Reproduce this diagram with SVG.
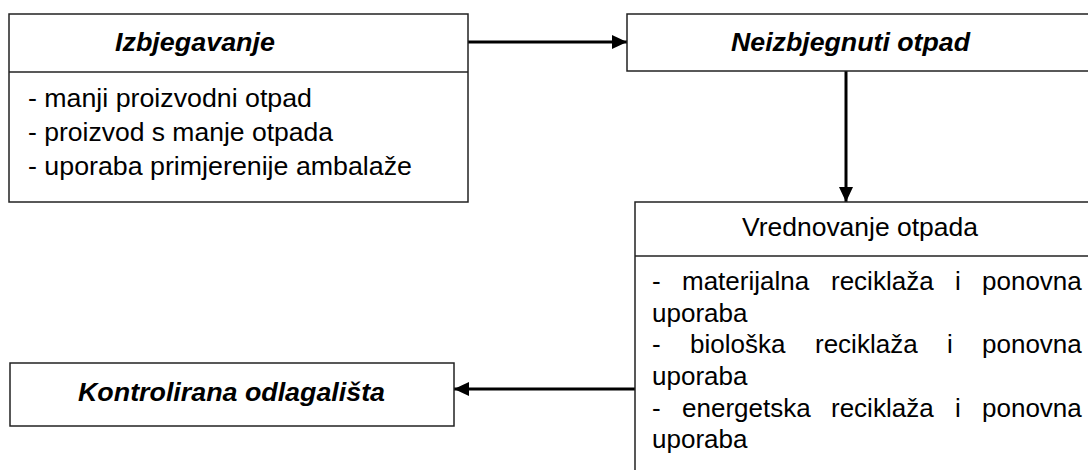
<svg xmlns="http://www.w3.org/2000/svg" width="1088" height="470" viewBox="0 0 1088 470">
<style>
.box{fill:#fff;stroke:#222;stroke-width:1.5}
.div{stroke:#222;stroke-width:1.5}
.t{font-family:"Liberation Sans",Arial,sans-serif;font-size:26px;fill:#000}
.h{font-weight:bold;font-style:italic}
.c{stroke:#000;stroke-width:3;fill:none}
</style>
<defs>
<marker id="ah" markerUnits="userSpaceOnUse" markerWidth="16" markerHeight="16" refX="15" refY="8" orient="auto">
<path d="M0,1 L15,8 L0,15 Z" fill="#000"/>
</marker>
</defs>
<rect width="1088" height="470" fill="#fff"/>
<g id="connectors">
<line class="c" x1="468" y1="42" x2="627" y2="42" marker-end="url(#ah)"/>
<line class="c" x1="846" y1="71" x2="846" y2="202" marker-end="url(#ah)"/>
<line class="c" x1="635" y1="389" x2="454" y2="389" marker-end="url(#ah)"/>
</g>
<g id="izbjegavanje">
<rect class="box" x="9" y="14" width="459" height="188"/>
<line class="div" x1="9" y1="72" x2="468" y2="72"/>
<text class="t h" x="115" y="51" textLength="160" lengthAdjust="spacingAndGlyphs">Izbjegavanje</text>
<text class="t" x="28" y="107" textLength="284" lengthAdjust="spacingAndGlyphs">- manji proizvodni otpad</text>
<text class="t" x="28" y="141" textLength="305" lengthAdjust="spacingAndGlyphs">- proizvod s manje otpada</text>
<text class="t" x="28" y="175" textLength="384" lengthAdjust="spacingAndGlyphs">- uporaba primjerenije ambalaže</text>
</g>
<g id="neizbjegnuti">
<rect class="box" x="627" y="14" width="480" height="57"/>
<text class="t h" x="731" y="51" textLength="239" lengthAdjust="spacingAndGlyphs">Neizbjegnuti otpad</text>
</g>
<g id="vrednovanje">
<rect class="box" x="635" y="202" width="480" height="290"/>
<line class="div" x1="635" y1="256" x2="1100" y2="256"/>
<text class="t" x="742" y="236" textLength="236" lengthAdjust="spacingAndGlyphs">Vrednovanje otpada</text>
<text class="t" y="290"><tspan x="652">-</tspan><tspan x="682">materijalna</tspan><tspan x="831">reciklaža</tspan><tspan x="955">i</tspan><tspan x="982">ponovna</tspan></text>
<text class="t" x="652" y="322">uporaba</text>
<text class="t" y="353"><tspan x="652">-</tspan><tspan x="690">biološka</tspan><tspan x="815">reciklaža</tspan><tspan x="947">i</tspan><tspan x="982">ponovna</tspan></text>
<text class="t" x="652" y="385">uporaba</text>
<text class="t" y="417"><tspan x="652">-</tspan><tspan x="682">energetska</tspan><tspan x="831">reciklaža</tspan><tspan x="955">i</tspan><tspan x="982">ponovna</tspan></text>
<text class="t" x="652" y="448">uporaba</text>
</g>
<g id="kontrolirana">
<rect class="box" x="10" y="363" width="444" height="63"/>
<text class="t h" x="78" y="401" textLength="307" lengthAdjust="spacingAndGlyphs">Kontrolirana odlagališta</text>
</g>
</svg>
